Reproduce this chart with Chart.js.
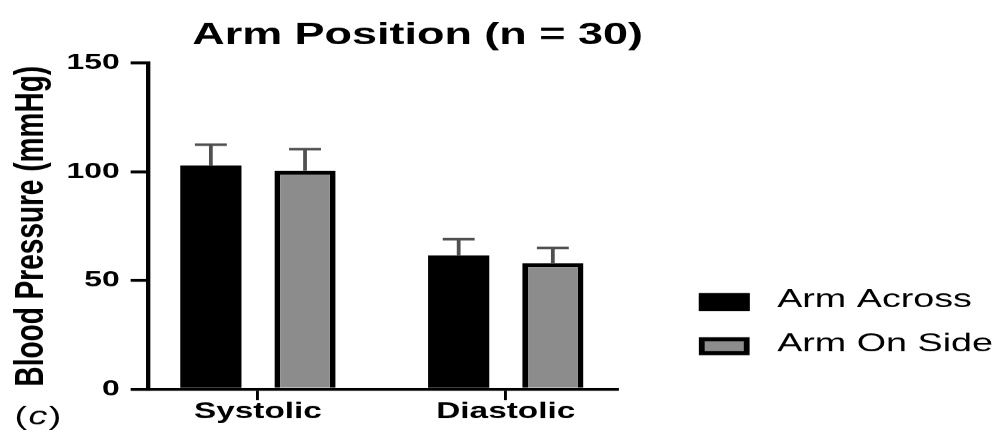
<!DOCTYPE html>
<html>
<head>
<meta charset="utf-8">
<script src="https://cdn.jsdelivr.net/npm/chart.js@4.4.1/dist/chart.umd.min.js"></script>
<style>
  html, body { margin: 0; padding: 0; background: #fff; overflow: hidden; }
  #chart { display: block; background: #fff; }
</style>
</head>
<body>
<canvas id="chart" width="689" height="432" style="width:999px;height:432px"></canvas>
<script>
// mean and SD in mmHg
const categories = ['Systolic', 'Diastolic'];
const armAcross = [103, 61.5];
const armAcrossSD = [9.5, 7.5];
const armOnSide = [100.5, 58];
const armOnSideSD = [10, 7];
const yTicks = [0, 50, 100, 150];

// the source picture is stretched sideways, so draw narrow and let css widen it
const STRETCH = 999 / 689;
const FONT = '"Liberation Sans", Arial, Helvetica, sans-serif';

const errorBars = {
    id: 'errorBars',
    afterDatasetsDraw(chart) {
        const ctx = chart.ctx;
        const y = chart.scales.y;
        ctx.save();
        ctx.strokeStyle = '#505050';
        ctx.lineWidth = 2.6;
        chart.data.datasets.forEach((ds, i) => {
            chart.getDatasetMeta(i).data.forEach((bar, j) => {
                const top = y.getPixelForValue(ds.data[j].y + ds.sd[j]);
                ctx.beginPath();
                ctx.moveTo(bar.x, bar.y);
                ctx.lineTo(bar.x, top);
                ctx.moveTo(bar.x - 11, top);
                ctx.lineTo(bar.x + 11, top);
                ctx.stroke();
            });
        });
        ctx.restore();
    }
};

// legend to the right of the plot, items come from chart.legend
const sideLegend = {
    id: 'sideLegend',
    afterDraw(chart) {
        const items = (chart.legend && chart.legend.legendItems) || [];
        const ctx = chart.ctx;
        const x = chart.chartArea.right + 56;
        let y = 302;
        ctx.save();
        items.forEach(item => {
            const bw = item.lineWidth || 0;
            ctx.fillStyle = item.strokeStyle;
            ctx.fillRect(x, y - 9, 35, 18);
            ctx.fillStyle = item.fillStyle;
            ctx.fillRect(x + bw, y - 9 + bw, 35 - 2 * bw, 18 - 2 * bw);
            ctx.fillStyle = '#000';
            ctx.font = '26px ' + FONT;
            ctx.textBaseline = 'middle';
            ctx.fillText(item.text, x + 54, y - 2);
            y += 44;
        });
        ctx.restore();
    }
};

// "(c)" panel letter, bottom left
const panelLabel = {
    id: 'panelLabel',
    afterDraw(chart) {
        const ctx = chart.ctx;
        const y = chart.height - 8;
        let x = 10;
        ctx.save();
        ctx.fillStyle = '#000';
        ctx.textBaseline = 'alphabetic';
        ctx.font = '26px ' + FONT;
        ctx.fillText('(', x, y);
        x += ctx.measureText('(').width + 1;
        ctx.font = 'italic 26px ' + FONT;
        ctx.fillText('c', x, y);
        x += ctx.measureText('c').width + 1;
        ctx.font = '26px ' + FONT;
        ctx.fillText(')', x, y);
        ctx.restore();
    }
};

new Chart(document.getElementById('chart'), {
    type: 'bar',
    data: {
        datasets: [
            {
                label: 'Arm Across',
                data: categories.map((c, i) => ({ x: i, y: armAcross[i] })),
                sd: armAcrossSD,
                backgroundColor: '#000',
                borderColor: '#000',
                borderWidth: 0,
                yAxisID: 'y'
            },
            {
                label: 'Arm On Side',
                data: categories.map((c, i) => ({ x: i, y: armOnSide[i] })),
                sd: armOnSideSD,
                backgroundColor: '#8c8c8c',
                borderColor: '#000',
                borderWidth: 4,
                yAxisID: 'y'
            }
        ]
    },
    options: {
        responsive: false,
        devicePixelRatio: STRETCH,
        animation: false,
        categoryPercentage: 0.76,
        barPercentage: 0.65,
        layout: { padding: { left: 0, right: 113, top: 0, bottom: 9 } },
        plugins: {
            title: {
                display: true,
                text: 'Arm Position (n = 30)',
                align: 'center',
                color: '#000',
                font: { family: FONT, size: 31, weight: 'bold' },
                padding: { top: 17, bottom: 9 }
            },
            legend: { display: false },
            tooltip: { enabled: false }
        },
        scales: {
            x: {
                type: 'linear',
                min: -0.4435,
                max: 1.4516,
                offset: false,
                grid: { drawOnChartArea: false, offset: false, tickLength: 11, lineWidth: 2, color: '#000' },
                border: { color: '#000', width: 3 },
                ticks: {
                    stepSize: 1,
                    includeBounds: false,
                    autoSkip: false,
                    maxRotation: 0,
                    padding: 0,
                    color: '#000',
                    font: { family: FONT, size: 23, weight: 'bold', lineHeight: 1 },
                    callback: v => categories[v] ?? ''
                }
            },
            y: {
                min: yTicks[0],
                max: yTicks[yTicks.length - 1],
                afterBuildTicks: s => { s.ticks = yTicks.map(v => ({ value: v })); },
                grid: { drawOnChartArea: false, tickLength: 12, lineWidth: 3, color: '#000' },
                border: { color: '#000', width: 3 },
                ticks: {
                    padding: 7.5,
                    color: '#000',
                    font: { family: FONT, size: 22, weight: 'bold' }
                },
                title: {
                    display: true,
                    text: 'Blood Pressure (mmHg)',
                    color: '#000',
                    font: { family: FONT, size: 28, weight: 'bold', lineHeight: 1 },
                    padding: { top: 8, bottom: 2.4 }
                }
            },
            // blank right axis: keeps space between the plot and the legend
            y2: {
                position: 'right',
                grid: { display: false },
                border: { display: false },
                ticks: { display: false },
                afterFit: s => { s.width = 150; }
            }
        }
    },
    plugins: [errorBars, sideLegend, panelLabel]
});
</script>
</body>
</html>
